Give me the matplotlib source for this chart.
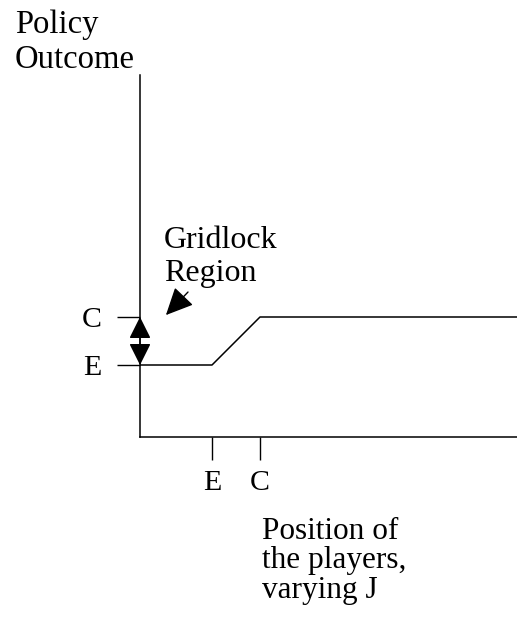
import matplotlib
matplotlib.use("Agg")
import matplotlib.pyplot as plt
from matplotlib.patches import FancyArrowPatch

plt.rcParams["font.family"] = ["Liberation Serif", "DejaVu Serif"]

# positions of the players (E, C) along the horizontal axis
player_ticks = [3, 5]
player_labels = ["E", "C"]
# outcome levels (E, C) on the vertical axis
outcome_ticks = [3, 5]
outcome_labels = ["E", "C"]

# policy outcome as J varies
j_position = [0, 3, 5, 16]
policy_outcome = [3, 3, 5, 5]

W, H = 517, 620
fig = plt.figure(figsize=(W / 100, H / 100), dpi=100)

# axes placed in pixel terms: origin at (140, 437)
ax = fig.add_axes([140 / W, 183 / H, 377 / W, 362 / H])
ax.set_xlim(0, 377 / 24)
ax.set_ylim(0, 362 / 24)

ax.plot(j_position, policy_outcome, color="black", lw=1.1)

for side in ("top", "right"):
    ax.spines[side].set_visible(False)
for side in ("left", "bottom"):
    ax.spines[side].set_linewidth(1.1)

ax.set_xticks(player_ticks)
ax.set_xticklabels(player_labels)
ax.set_yticks(outcome_ticks)
ax.set_yticklabels(outcome_labels)
ax.tick_params(axis="x", direction="out", length=16.5, width=1.0, pad=7, labelsize=21.5)
ax.tick_params(axis="y", direction="out", length=16.5, width=1.0, pad=11, labelsize=21.5)

# gridlock double arrow between E and C on the vertical axis
gridlock = FancyArrowPatch((0, outcome_ticks[0]), (0, outcome_ticks[1]),
                           arrowstyle="<|-|>,head_length=0.9,head_width=0.45",
                           mutation_scale=15, color="black", lw=1.0,
                           shrinkA=0, shrinkB=0, clip_on=False)
ax.add_patch(gridlock)

ax.annotate("", xy=(1.08, 5.08), xytext=(2.0, 6.04),
            arrowprops=dict(arrowstyle="-|>,head_length=0.85,head_width=0.4",
                            mutation_scale=20, color="black", lw=1.0,
                            shrinkA=0, shrinkB=0))

fig.text(15 / W, 1 - 10 / H, "Policy\nOutcome", fontsize=23.5, va="top", ha="left",
         linespacing=1.15)
fig.text(164 / W, 1 - 226 / H, "Gridlock\nRegion", fontsize=23, va="top", ha="left",
         linespacing=1.2)
fig.text(262 / W, 1 - 517 / H, "Position of\nthe players,\nvarying J", fontsize=22.5,
         va="top", ha="left", linespacing=1.02)

fig.savefig("out.png", dpi=100)
